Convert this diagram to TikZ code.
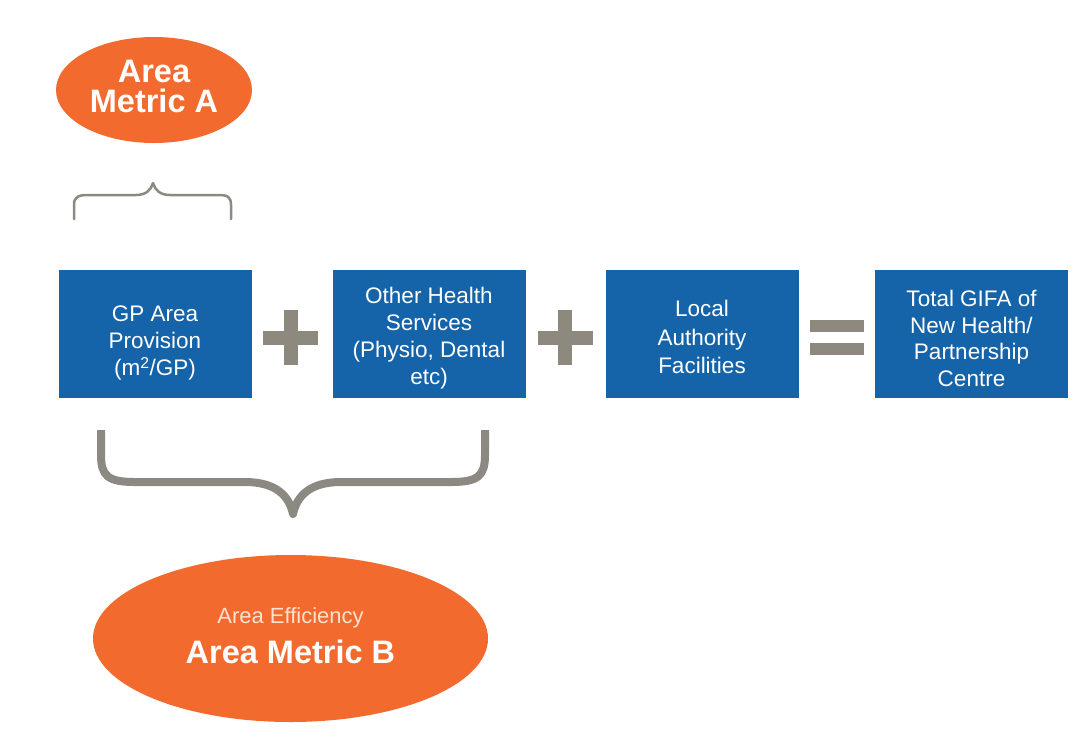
\documentclass[tikz,border=0pt]{standalone}
\usepackage{fontspec}
\setmainfont{Liberation Sans}
\usetikzlibrary{shapes.geometric}
\definecolor{boxblue}{RGB}{21,99,168}
\definecolor{metor}{RGB}{242,106,46}
\definecolor{opgray}{RGB}{142,137,127}
\definecolor{bracegray}{RGB}{140,137,130}
\definecolor{softwhite}{RGB}{253,226,210}
\begin{document}
\begin{tikzpicture}[x=1pt,y=-1pt,
  box/.style={fill=boxblue, minimum width=193pt, minimum height=128pt, inner sep=0pt},
  boxtext/.style={text=white, align=center, inner sep=0pt, font=\fontsize{22.5}{27}\selectfont},
  metric/.style={ellipse, fill=metor, inner sep=0pt},
  bigtext/.style={text=white, inner sep=0pt, font=\bfseries\fontsize{32.5}{30}\selectfont},
  subtext/.style={text=softwhite, inner sep=0pt, font=\fontsize{22}{26}\selectfont},
  opbar/.style={fill=opgray},
  bracethin/.style={draw=bracegray, line width=2.5pt, line join=round, line cap=round},
  bracethick/.style={draw=bracegray, line width=8pt, line join=round},
]
\useasboundingbox[fill=white] (0,0) rectangle (1086,740);

% Metric A ellipse
\node[metric, minimum width=196pt, minimum height=106pt,
  label={[bigtext, align=center, yshift=3.5pt]center:{Area\\Metric A}}] (mA) at (154,90) {};

% small brace
\draw[bracethin] (74,219) -- (74,205) .. controls (74,197) and (78,195) .. (88,195)
  -- (136,195) .. controls (146,195) and (151,190) .. (153,183)
  .. controls (155,190) and (160,195) .. (170,195)
  -- (218,195) .. controls (228,195) and (231,197) .. (231,205) -- (231,219);

% boxes
\node[box, label={[boxtext, yshift=-9pt]center:{GP Area\\Provision\\(m\textsuperscript{2}/GP)}}] (b1) at (155,334) {};
\node[box, label={[boxtext, yshift=-4pt]center:{Other Health\\Services\\(Physio, Dental\\etc)}}] (b2) at (429,334) {};
\node[box, label={[boxtext, yshift=-3pt, font=\fontsize{22.5}{28.5}\selectfont]center:{Local\\Authority\\Facilities}}] (b3) at (702,334) {};
\node[box, label={[boxtext, yshift=-4.5pt, font=\fontsize{22.5}{26.5}\selectfont]center:{Total GIFA of\\New Health/\\Partnership\\Centre}}] (b4) at (971.5,334) {};

% plus 1
\fill[opbar] (263,330.5) rectangle (318,344.5);
\fill[opbar] (283.5,310) rectangle (297.5,365);
% plus 2
\fill[opbar] (537.5,330.5) rectangle (592.5,344.5);
\fill[opbar] (558,310) rectangle (572,365);
% equals
\fill[opbar] (810,320) rectangle (864,332);
\fill[opbar] (810,343) rectangle (864,355);

% big brace
\draw[bracethick] (101,430) -- (101,455) .. controls (101,476) and (108,482) .. (135,482)
  -- (245,482) .. controls (275,482) and (289,495) .. (293,514)
  .. controls (297,495) and (311,482) .. (341,482)
  -- (451,482) .. controls (478,482) and (485,476) .. (485,455) -- (485,430);

% Metric B ellipse
\node[metric, minimum width=395pt, minimum height=167pt] (mB) at (290.5,638.5) {};
\node[subtext, anchor=base] (mBsub) at (290.5,623) {Area Efficiency};
\node[bigtext, anchor=base] (mBtitle) at (290.5,663) {Area Metric B};
\end{tikzpicture}
\end{document}
